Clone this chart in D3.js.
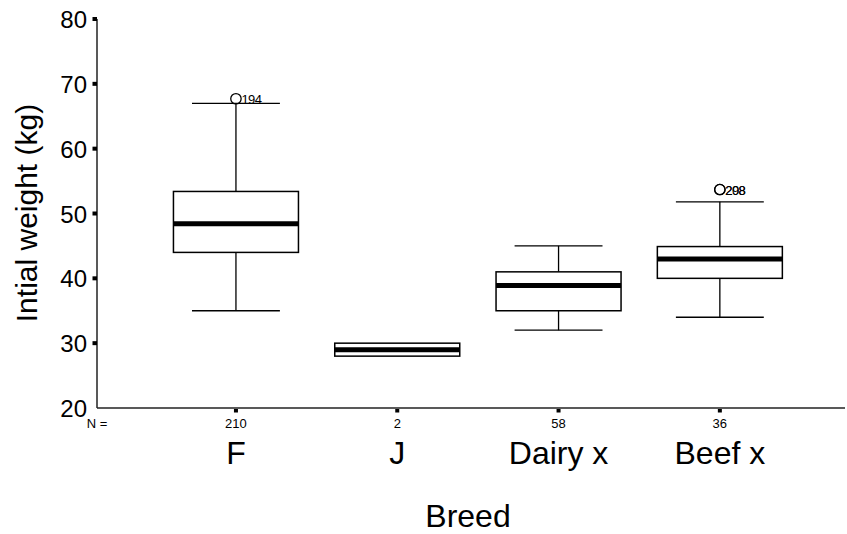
<!DOCTYPE html>
<html>
<head>
<meta charset="utf-8">
<script src="https://cdn.jsdelivr.net/npm/d3@7"></script>
<style>
  body { margin: 0; background: #fff; }
  text { font-family: "Liberation Sans", Arial, sans-serif; fill: #000; }
</style>
</head>
<body>
<div id="chart"></div>
<script>
// Dữ liệu
const breeds = ["F", "J", "Dairy x", "Beef x"];
const counts = [210, 2, 58, 36];
const whiskerLow = [35, 28, 32, 34];
const q1 = [44, 28, 35, 40];
const medians = [48.4, 29, 38.9, 43];
const q3 = [53.4, 30, 41, 44.9];
const whiskerHigh = [67, 30, 45, 51.8];
// ngoại lai: [chỉ số nhóm, giá trị, nhãn]
const outliers = [[0, 67.7, "194"], [3, 53.7, "208"], [3, 53.7, "298"]];
const yTicks = [20, 30, 40, 50, 60, 70, 80];

const W = 847, H = 534;
const svg = d3.select("#chart").append("svg").attr("width", W).attr("height", H);

const x = d3.scaleBand().domain(breeds).range([155.3, 800.5]).padding(0);
const y = d3.scaleLinear().domain([20, 80]).range([408, 19]);

const boxW = x.bandwidth() * 0.775;
const capW = x.bandwidth() * 0.545;
const cx = d => x(d) + x.bandwidth() / 2;

// trục
svg.append("line").attr("x1", 97).attr("x2", 97).attr("y1", y(80)).attr("y2", y(20))
  .attr("stroke", "#222").attr("stroke-width", 1.5);
svg.append("line").attr("x1", 97).attr("x2", 845).attr("y1", y(20)).attr("y2", y(20))
  .attr("stroke", "#222").attr("stroke-width", 1.5);

svg.selectAll(".ytick").data(yTicks.filter(d => d > 20)).enter().append("rect")
  .attr("x", 92.5).attr("y", d => y(d) - 2).attr("width", 4.5).attr("height", 4).attr("fill", "#000");
svg.selectAll(".ylab").data(yTicks).enter().append("text")
  .attr("x", 87).attr("y", d => y(d) + 9).attr("text-anchor", "end")
  .style("font-size", "24px").text(d => d);

svg.selectAll(".xtick").data(breeds).enter().append("rect")
  .attr("x", d => cx(d) - 2).attr("y", 409).attr("width", 4).attr("height", 3.5).attr("fill", "#000");

svg.append("text").attr("x", 97).attr("y", 428).attr("text-anchor", "middle")
  .style("font-size", "13px").text("N =");
svg.selectAll(".nlab").data(breeds).enter().append("text")
  .attr("x", d => cx(d)).attr("y", 428).attr("text-anchor", "middle")
  .style("font-size", "13px").text((d, i) => counts[i]);
svg.selectAll(".clab").data(breeds).enter().append("text")
  .attr("x", d => cx(d)).attr("y", 464).attr("text-anchor", "middle")
  .style("font-size", "32px").text(d => d);

svg.append("text").attr("x", 468).attr("y", 527).attr("text-anchor", "middle")
  .style("font-size", "32px").text("Breed");
svg.append("text").attr("transform", "translate(37,213) rotate(-90)").attr("text-anchor", "middle")
  .style("font-size", "30px").text("Intial weight (kg)");

// hộp
const g = svg.selectAll(".box").data(breeds).enter().append("g");
g.append("line").attr("x1", cx).attr("x2", cx)
  .attr("y1", (d, i) => y(whiskerHigh[i])).attr("y2", (d, i) => y(q3[i]))
  .attr("stroke", "#000").attr("stroke-width", 1.3);
g.append("line").attr("x1", cx).attr("x2", cx)
  .attr("y1", (d, i) => y(q1[i])).attr("y2", (d, i) => y(whiskerLow[i]))
  .attr("stroke", "#000").attr("stroke-width", 1.3);
g.filter((d, i) => whiskerHigh[i] > q3[i]).append("line")
  .attr("x1", d => cx(d) - capW / 2).attr("x2", d => cx(d) + capW / 2)
  .attr("y1", d => y(whiskerHigh[breeds.indexOf(d)])).attr("y2", d => y(whiskerHigh[breeds.indexOf(d)]))
  .attr("stroke", "#000").attr("stroke-width", 1.3);
g.filter((d, i) => whiskerLow[i] < q1[i]).append("line")
  .attr("x1", d => cx(d) - capW / 2).attr("x2", d => cx(d) + capW / 2)
  .attr("y1", d => y(whiskerLow[breeds.indexOf(d)])).attr("y2", d => y(whiskerLow[breeds.indexOf(d)]))
  .attr("stroke", "#000").attr("stroke-width", 1.3);
g.append("rect").attr("x", d => cx(d) - boxW / 2).attr("width", boxW)
  .attr("y", (d, i) => y(q3[i])).attr("height", (d, i) => y(q1[i]) - y(q3[i]))
  .attr("fill", "#fff").attr("stroke", "#000").attr("stroke-width", 1.5);
g.append("line").attr("x1", d => cx(d) - boxW / 2).attr("x2", d => cx(d) + boxW / 2)
  .attr("y1", (d, i) => y(medians[i])).attr("y2", (d, i) => y(medians[i]))
  .attr("stroke", "#000").attr("stroke-width", 5);

// ngoại lai
svg.selectAll(".out").data(outliers).enter().append("circle")
  .attr("cx", d => cx(breeds[d[0]])).attr("cy", d => y(d[1])).attr("r", 5.2)
  .attr("fill", "none").attr("stroke", "#000").attr("stroke-width", 1.3);
svg.selectAll(".outlab").data(outliers).enter().append("text")
  .attr("x", d => cx(breeds[d[0]]) + 5.5).attr("y", d => y(d[1]) + 5)
  .style("font-size", "13px").style("letter-spacing", "-0.6px").text(d => d[2]);
</script>
</body>
</html>
